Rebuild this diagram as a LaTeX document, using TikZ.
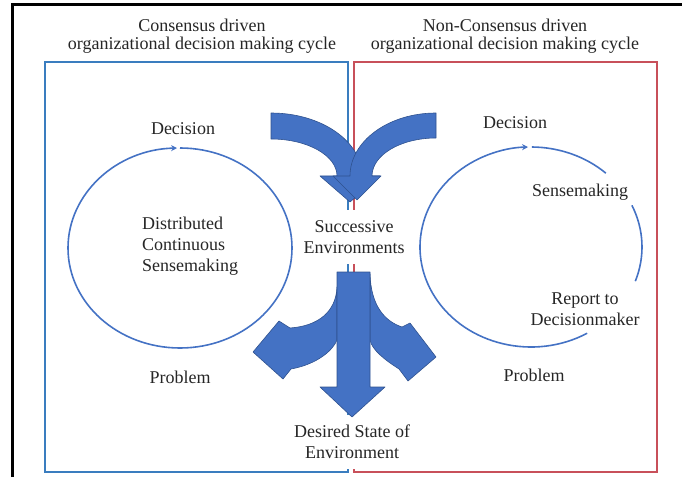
\documentclass[tikz,border=0pt]{standalone}
\usepackage{fontspec}
\setmainfont{Liberation Serif}
\usetikzlibrary{arrows.meta}
\definecolor{cycblue}{HTML}{4472C4}
\definecolor{arrowedge}{HTML}{2F528F}
\definecolor{boxblue}{HTML}{3A7DBF}
\definecolor{boxred}{HTML}{C8505A}

\begin{document}
\begin{tikzpicture}[x=1pt, y=1pt,
    every node/.style={font=\rmfamily\fontsize{18}{21}\selectfont, inner sep=0pt, text=black!85},
    title/.style={align=center, font=\rmfamily\fontsize{18}{18.3}\selectfont},
    mask/.style={fill=white, align=center, minimum height=54},
    cyc/.style={draw=cycblue, line width=1.6pt},
    bigarrow/.style={fill=cycblue, draw=arrowedge, line width=0.6pt, line join=round}]
    \useasboundingbox (0,0) rectangle (682,477);
    \draw[line width=3pt] (12,0) -- (12,472.3) -- (682,472.3);
    \draw[boxblue, line width=1.2pt] (45,5) rectangle (348,415);
    \draw[boxred, line width=1.2pt] (354,5) rectangle (657,415);
    \node[title] (t1) at (202,441) {Consensus driven\\organizational decision making cycle};
    \node[title] (t2) at (505,441) {Non-Consensus driven\\organizational decision making cycle};
    \node (dec1) at (183,348) {Decision};
    \node[align=left, anchor=west] (sense1) at (142,231) {Distributed\\Continuous\\Sensemaking};
    \node (prob1) at (180,100) {Problem};
    \node (dec2) at (515,354) {Decision};
    \node (sense2) at (580,285) {Sensemaking};
    \node[align=center] (rep2) at (585,168) {Report to\\Decisionmaker};
    \node (prob2) at (534,102) {Problem};
    \node[mask] (env) at (354,240) {Successive\\Environments};
    \node[mask] (goal) at (352,35) {Desired State of\\Environment};
    \coordinate (c1) at (180,229);
    \coordinate (c2) at (531,230);
    \draw[cyc, -{Stealth[length=6pt, width=6pt]}] (c1) ++(90:112 and 100)
        arc[start angle=90, end angle=-268.5, x radius=112, y radius=100];
    \draw[cyc] (c2) ++(89.5:111 and 100)
        arc[start angle=89.5, end angle=47.6, x radius=111, y radius=100];
    \draw[cyc] (c2) ++(24.6:111 and 100)
        arc[start angle=24.6, end angle=-20, x radius=111, y radius=100];
    \draw[cyc, -{Stealth[length=6pt, width=6pt]}] (c2) ++(-59.6:111 and 100)
        arc[start angle=-59.6, end angle=-268.5, x radius=111, y radius=100];
    \draw[bigarrow] (271,364) arc[start angle=90, end angle=0, x radius=91, y radius=63]
        -- (380,301) -- (350,275) -- (320,301) -- (337,301)
        arc[start angle=0, end angle=90, x radius=66, y radius=37] -- cycle;
    \draw[bigarrow] (436,364) arc[start angle=90, end angle=180, x radius=86, y radius=63]
        -- (333,301) -- (357,277) -- (381,301) -- (372,301)
        arc[start angle=180, end angle=90, x radius=64, y radius=38] -- cycle;
    \draw[bigarrow] (337,190) .. controls (336,165) and (318,151) .. (290,149)
        -- (279,156) -- (253,125) -- (283,98) -- (291,108)
        .. controls (318,113) and (333,127) .. (337,137) -- cycle;
    \draw[bigarrow] (370,203) .. controls (371,172) and (384,156) .. (402,150)
        -- (410,154) -- (436,120) -- (408,96) -- (399,108)
        .. controls (385,117) and (372,127) .. (370,137) -- cycle;
    \draw[bigarrow] (337,205) -- (370,205) -- (370,90) -- (385,90) -- (352,60)
        -- (320,90) -- (337,90) -- cycle;
\end{tikzpicture}
\end{document}
